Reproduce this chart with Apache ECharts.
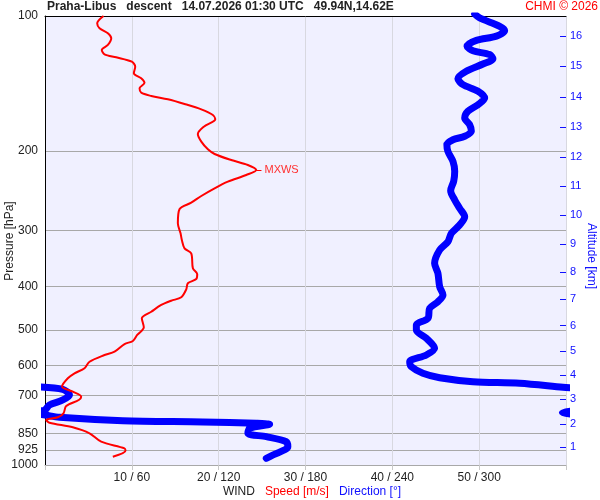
<!DOCTYPE html>
<html>
<head>
<meta charset="utf-8">
<script src="https://cdn.jsdelivr.net/npm/echarts@6/dist/echarts.min.js"></script>
<style>html,body{margin:0;padding:0;background:#fff}#c{width:600px;height:500px}</style>
</head>
<body>
<div id="c"></div>
<script>
// ---- data ----
const pressureTicks = [100, 200, 300, 400, 500, 600, 700, 850, 925, 1000];
const speedTicks = [10, 20, 30, 40, 50];
const directionTicks = [60, 120, 180, 240, 300];
const altitudeKm = [1, 2, 3, 4, 5, 6, 7, 8, 9, 10, 11, 12, 13, 14, 15, 16];
const altitudePressure = [911.8, 810.4, 712.9, 630.3, 557.3, 489.0, 426.9, 371.7, 322.0, 277.5, 239.1, 206.1, 176.7, 151.5, 129.2, 110.8];

// wind speed [m/s] vs pressure [hPa]
const speedPressure = [100, 103.8, 106.5, 109.3, 112.1, 116.0, 119.0, 121.7, 123.6, 126.4, 129.7, 134.1, 137.6, 140.8, 144.9, 148.2, 150.7, 153.3, 157.0, 161.4, 166.1, 169.9, 176.4, 183.2, 190.5, 198.1, 202.9, 209.3, 214.7, 220.3, 226.0, 233.9, 242.0, 251.7, 260.5, 269.1, 289.5, 304.8, 315.4, 329.2, 337.7, 364.7, 375.5, 385.3, 393.8, 406.2, 423.2, 430.6, 440.2, 455.6, 471.3, 493.5, 513.4, 529.5, 537.7, 559.3, 568.9, 588.8, 609.0, 624.8, 641.1, 668.6, 686.7, 704.5, 716.5, 738.9, 767.1, 783.0, 793.9, 805.0, 824.2, 849.9, 887.4, 918.0, 929.3, 958.3];
const speedValues = [6.74, 6.01, 6.28, 7.24, 7.63, 7.24, 6.54, 6.85, 8.20, 10.0, 10.39, 10.23, 11.08, 11.46, 10.89, 11.08, 12.24, 14.15, 16.07, 18.0, 19.33, 19.61, 18.29, 17.60, 18.0, 18.76, 19.53, 21.45, 23.36, 24.33, 23.18, 21.06, 19.53, 18.0, 16.84, 15.5, 15.30, 15.61, 15.76, 16.07, 16.84, 17.03, 17.53, 17.42, 16.45, 16.27, 15.69, 14.54, 13.39, 12.24, 11.15, 11.38, 10.62, 10.12, 9.16, 8.01, 6.85, 5.13, 4.55, 3.40, 2.63, 1.96, 3.20, 4.17, 3.89, 2.44, 2.13, 1.47, 0.14, 0.52, 3.20, 5.13, 6.47, 9.16, 9.27, 7.81];

// wind direction [deg] vs pressure [hPa]; null = break where the direction wraps 360/0
const directionPressure = [99, 101.0, 105.4, 107.8, 110.9, 113.3, 116.8, 119.5, 121.9, 124.5, 127.9, 132.8, 137.9, 142.2, 147.1, 152.3, 157.6, 163.0, 168.7, 174.6, 180.6, 185.3, 188.6, 193.5, 200.2, 210.7, 221.8, 233.4, 244.9, 256.9, 268.1, 279.9, 292.1, 304.8, 318.2, 332.0, 355.4, 374.2, 400.8, 418.2, 432.8, 447.7, 471.3, 487.8, 500.4, 522.2, 549.7, 568.9, 588.8, 604.0, 624.8, 639.1, 652.3, 657.7, 671.4, 673.5, null, 670.0, 678.3, 698.4, 716.5, 735.2, 754.3, 757.5, null, 759.0, 764.5, 770.0, null, 771.5, 773.8, 783.0, 796.8, 802.1, 807.5, 811.6, 828.5, 849.9, 864.9, 887.4, 910.5, 950.0, 966.2];
const directionValues = [296.9, 300.3, 314.2, 317.6, 311.9, 298.1, 291.6, 295.7, 307.3, 309.5, 302.6, 291.1, 285.3, 288.8, 299.2, 303.8, 299.2, 292.2, 290.0, 293.4, 294.6, 290.0, 281.9, 277.7, 278.4, 281.9, 283.1, 282.4, 280.3, 283.1, 286.5, 290.0, 286.5, 280.8, 278.4, 272.7, 269.2, 271.5, 272.7, 275.0, 271.5, 265.8, 264.6, 256.6, 256.6, 263.5, 269.2, 263.5, 252.0, 253.1, 261.1, 272.7, 295.7, 328.0, 357.9, 364, null, -3, 12.3, 16.9, 12.3, 3.1, 0, -3, null, 363, 357.5, 363, null, -3, 0, 10.0, 53.8, 109.1, 146.0, 155.2, 141.4, 140.2, 152.9, 166.7, 167.8, 157.5, 152.9];

// ---- chart ----
const speedData = speedValues.map((v, i) => [v, speedPressure[i]]);
const dirData = directionValues.map((v, i) => v === null ? '-' : [v, directionPressure[i]]);
let mxIdx = 0;
speedValues.forEach((v, i) => { if (v > speedValues[mxIdx]) mxIdx = i; });
const mxSpeed = speedValues[mxIdx], mxP = speedPressure[mxIdx];

function nearestLabel(list, labels, v) {
  let best = 0, bd = Infinity;
  list.forEach((p, i) => { const d = Math.abs(Math.log(p) - Math.log(v)); if (d < bd) { bd = d; best = i; } });
  return String(labels[best]);
}

const FONT = 'Liberation Sans, Arial, sans-serif';
const chart = echarts.init(document.getElementById('c'), null, { renderer: 'canvas' });
chart.setOption({
  animation: false,
  backgroundColor: '#ffffff',
  grid: { left: 45, top: 16, width: 521, height: 449, show: true, backgroundColor: '#f0f0ff', borderWidth: 0, containLabel: false, outerBoundsMode: 'none' },
  xAxis: [
    {
      type: 'value', min: 0, max: 60, interval: 10, position: 'bottom',
      axisLine: { show: true, onZero: false, lineStyle: { color: '#a8a8a8', width: 1 } },
      axisTick: { show: true, length: 5, lineStyle: { color: '#c8c8c8' } },
      axisLabel: { customValues: speedTicks, color: '#222', fontFamily: FONT, fontSize: 12, margin: 7,
        formatter: v => v + ' / ' + directionTicks[speedTicks.indexOf(v)] },
      splitLine: { show: true, lineStyle: { color: '#d8d8e0', width: 1 } }
    },
    {
      type: 'value', min: 0, max: 360, position: 'top',
      axisLine: { show: true, onZero: false, lineStyle: { color: '#000', width: 1 } },
      axisTick: { show: false }, axisLabel: { show: false }, splitLine: { show: false }
    }
  ],
  yAxis: [
    {
      type: 'log', logBase: 10, min: 100, max: 1000, inverse: true, position: 'left',
      axisLine: { show: true, onZero: false, lineStyle: { color: '#000', width: 1 } },
      axisTick: { show: false, customValues: pressureTicks },
      axisLabel: { customValues: pressureTicks, color: '#222', fontFamily: FONT, fontSize: 12, margin: 7,
        formatter: v => nearestLabel(pressureTicks, pressureTicks, v) },
      splitLine: { show: true, lineStyle: { color: '#a8a8a8', width: 1 } }
    },
    {
      type: 'log', logBase: 10, min: 100, max: 1000, inverse: true, position: 'right',
      axisLine: { show: false, onZero: false },
      axisTick: { show: true, inside: true, length: 6, customValues: altitudePressure, lineStyle: { color: '#1010ff', width: 1 } },
      axisLabel: { customValues: altitudePressure, color: '#1010ff', fontFamily: FONT, fontSize: 11, margin: 4,
        formatter: v => nearestLabel(altitudePressure, altitudeKm, v) },
      splitLine: { show: false }
    }
  ],
  graphic: [
    { type: 'text', left: 47, top: 1, style: { text: 'Praha-Libus   descent   14.07.2026 01:30 UTC   49.94N,14.62E', fill: '#222', font: 'bold 12px ' + FONT } },
    { type: 'text', right: 2, top: 1, style: { text: 'CHMI © 2026', fill: '#ff0000', font: '12px ' + FONT } },
    { type: 'text', x: 10, y: 241, rotation: Math.PI / 2, style: { text: 'Pressure [hPa]', fill: '#222', font: '12px ' + FONT, align: 'center', verticalAlign: 'middle' } },
    { type: 'text', x: 591, y: 256, rotation: -Math.PI / 2, style: { text: 'Altitude [km]', fill: '#1010ff', font: '12px ' + FONT, align: 'center', verticalAlign: 'middle' } },
    { type: 'text', x: 312, y: 492, style: { text: '{a|WIND}   {b|Speed [m/s]}   {c|Direction [°]}', align: 'center', verticalAlign: 'middle', font: '12px ' + FONT,
      rich: { a: { fill: '#222', font: '12px ' + FONT }, b: { fill: '#ff0000', font: '12px ' + FONT }, c: { fill: '#1010ff', font: '12px ' + FONT } } } }
  ],
  series: [
    {
      type: 'line', name: 'Direction', xAxisIndex: 1, yAxisIndex: 0, data: dirData,
      showSymbol: false, smooth: 0.3, clip: true,
      lineStyle: { color: '#0000ff', width: 7, cap: 'round', join: 'round' }, z: 3
    },
    {
      type: 'line', name: 'Speed', xAxisIndex: 0, yAxisIndex: 0, data: speedData,
      showSymbol: false, smooth: 0.3, clip: false,
      lineStyle: { color: '#ff0000', width: 2 }, z: 4,
      markLine: {
        silent: true, symbol: 'none', animation: false,
        lineStyle: { color: '#ff0000', width: 1, type: 'solid' },
        label: { show: false },
        data: [
          [{ coord: [mxSpeed, mxP] }, { coord: [mxSpeed + 0.6, mxP], label: { show: true, position: 'end', formatter: 'MXWS', color: '#ff3030', fontFamily: FONT, fontSize: 11, distance: 3 } }],
          [{ coord: [-0.3, mxP] }, { coord: [1.2, mxP] }],
          [{ coord: [58.6, mxP] }, { coord: [60.1, mxP] }]
        ]
      }
    }
  ]
});
</script>
</body>
</html>
